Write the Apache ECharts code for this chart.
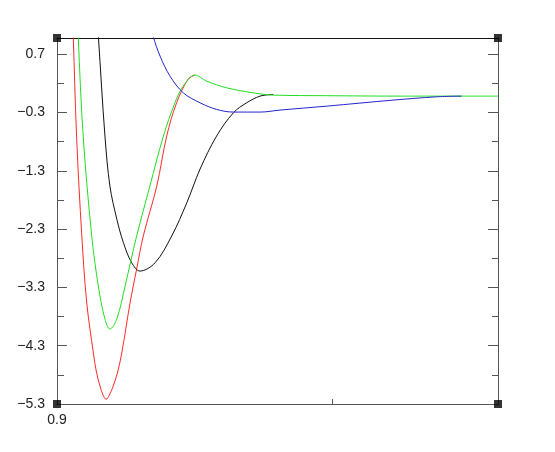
<!DOCTYPE html>
<html>
<head>
<meta charset="utf-8">
<script src="https://cdn.jsdelivr.net/npm/echarts@6/dist/echarts.min.js"></script>
<style>
html,body{margin:0;padding:0;background:#fff;}
#chart{width:555px;height:452px;}
</style>
</head>
<body>
<div id="chart"></div>
<script>
// ---- data ----
const xMin = 0.9, xMax = 2.5;
const yMin = -5.3, yMax = 0.98;
const xTickValues = [0.9, 1.9];
const xLabelValues = [0.9];
const yTickValues = [-5.3, -4.3, -3.3, -2.3, -1.3, -0.3, 0.7];
const yMinorValues = [-4.8, -3.8, -2.8, -1.8, -0.8, 0.2];

const redCurve = [
  [0.954, 1.63], [0.959, 1.012], [0.971, -0.703], [0.990, -2.418], [1.008, -3.568],
  [1.032, -4.425], [1.043, -4.751], [1.056, -4.991], [1.067, -5.146], [1.078, -5.219],
  [1.090, -5.146], [1.104, -4.991], [1.120, -4.751], [1.135, -4.425],
  [1.165, -3.568], [1.189, -2.984], [1.213, -2.418], [1.262, -1.561], [1.298, -0.703],
  [1.334, -0.132], [1.376, 0.275], [1.401, 0.343]
];
const greenCurve = [
  [0.973, 1.63], [0.977, 1.012], [0.995, -0.703], [1.026, -2.418], [1.050, -3.276],
  [1.074, -3.842], [1.092, -4.014], [1.117, -3.842], [1.147, -3.276], [1.189, -2.418],
  [1.237, -1.561], [1.286, -0.703], [1.328, -0.132], [1.358, 0.155], [1.401, 0.343],
  [1.443, 0.240], [1.516, 0.125], [1.612, 0.039], [1.685, 0.000], [1.880, -0.010],
  [2.145, -0.017], [2.5, -0.017]
];
const blackCurve = [
  [1.041, 1.63], [1.050, 1.012], [1.074, -0.703], [1.092, -1.561], [1.117, -2.127],
  [1.141, -2.533], [1.171, -2.876], [1.201, -3.019], [1.256, -2.876], [1.316, -2.418],
  [1.371, -1.847], [1.419, -1.269], [1.479, -0.703], [1.540, -0.303], [1.588, -0.132],
  [1.637, -0.017], [1.685, 0.012]
];
const blueCurve = [
  [1.239, 1.287], [1.249, 1.012], [1.274, 0.669], [1.310, 0.326], [1.358, 0.040],
  [1.419, -0.132], [1.479, -0.245], [1.540, -0.291], [1.637, -0.291], [1.709, -0.257],
  [1.879, -0.189], [2.119, -0.086], [2.278, -0.029], [2.368, -0.017]
];

const fmt = v => Number(v).toFixed(1).replace('-', '\u2212');
const labelFont = {fontFamily: 'Liberation Sans', fontSize: 14, color: '#222'};

function yAx(position, values, len, showLabel) {
  return {
    type: 'value', position: position, min: yMin, max: yMax, offset: 0,
    splitLine: {show: false},
    axisLine: {show: true, onZero: false, lineStyle: {color: '#555', width: 1}},
    axisTick: {show: true, inside: true, length: len, customValues: values, lineStyle: {color: '#555'}},
    axisLabel: showLabel ? Object.assign({show: true, margin: 12, customValues: values, formatter: fmt}, labelFont) : {show: false}
  };
}

function line(name, data, color) {
  return {
    name: name, type: 'line', data: data, xAxisIndex: 0, yAxisIndex: 0,
    showSymbol: false, symbol: 'none', smooth: 0.35, clip: true,
    lineStyle: {color: color, width: 1}, silent: true, animation: false
  };
}

const chart = echarts.init(document.getElementById('chart'), null, {renderer: 'canvas'});
chart.setOption({
  backgroundColor: '#fff',
  animation: false,
  grid: {left: 57, right: 57, top: 38, bottom: 48, show: false},
  xAxis: [
    {
      type: 'value', position: 'bottom', min: xMin, max: xMax,
      splitLine: {show: false},
      axisLine: {show: true, onZero: false, lineStyle: {color: '#555', width: 1}},
      axisTick: {show: true, inside: true, length: 5, customValues: xTickValues, lineStyle: {color: '#555'}},
      axisLabel: Object.assign({show: true, margin: 9, customValues: xLabelValues, formatter: fmt}, labelFont)
    },
    {
      type: 'value', position: 'top', min: xMin, max: xMax,
      splitLine: {show: false},
      axisLine: {show: true, onZero: false, lineStyle: {color: '#111', width: 1}},
      axisTick: {show: false}, axisLabel: {show: false}
    }
  ],
  yAxis: [
    yAx('left', yTickValues, 10, true),
    yAx('left', yMinorValues, 7, false),
    yAx('right', yTickValues, 10, false),
    yAx('right', yMinorValues, 6, false)
  ],
  series: [
    line('red', redCurve, '#ff2a2a'),
    line('black', blackCurve, '#111111'),
    line('green', greenCurve, '#22dd22'),
    line('blue', blueCurve, '#2424cc'),
    {
      type: 'scatter', silent: true, clip: false, symbol: 'rect', symbolSize: 8,
      itemStyle: {color: '#000'}, z: 10,
      data: [[xMin, yMin], [xMax, yMin], [xMin, yMax], [xMax, yMax]]
    }
  ]
});
</script>
</body>
</html>
